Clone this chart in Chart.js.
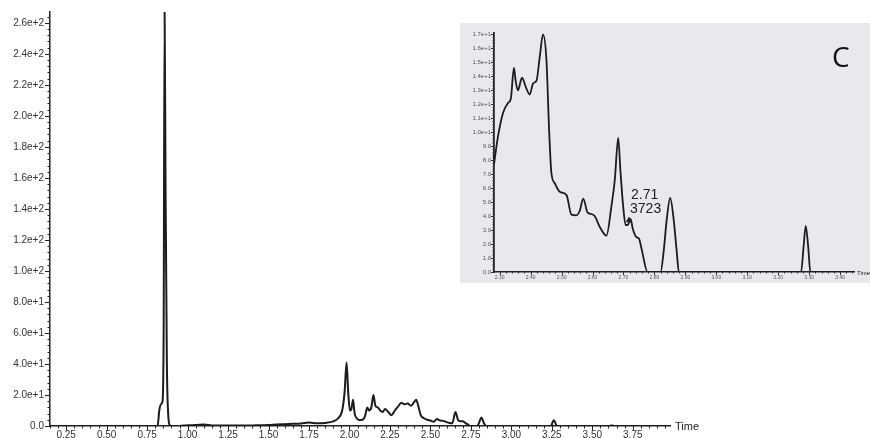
<!DOCTYPE html>
<html>
<head>
<meta charset="utf-8">
<script src="https://cdn.jsdelivr.net/npm/chart.js@4.4.0/dist/chart.umd.min.js"></script>
<style>
  html, body { margin: 0; padding: 0; background: #fff; }
  #wrap { position: relative; width: 870px; height: 438px; overflow: hidden; }
  #mainChart { position: absolute; left: 0; top: 0; }
  #insetChart { position: absolute; left: 460px; top: 23px; background: #e8e9ec; }
</style>
</head>
<body>
<div id="wrap">
  <canvas id="mainChart" width="870" height="438"></canvas>
  <canvas id="insetChart" width="410" height="260"></canvas>
</div>
<script>
// main chromatogram (time, intensity)
var mainTime = [0.15, 0.80, 0.815, 0.825, 0.835, 0.845, 0.852, 0.858, 0.864, 0.872, 0.880, 0.890, 0.90,
  0.95, 1.00, 1.05, 1.10, 1.15, 1.20, 1.30, 1.40, 1.50, 1.55, 1.60, 1.65, 1.70, 1.75, 1.80, 1.85, 1.90,
  1.93, 1.955, 1.97, 1.982, 1.992, 2.003, 2.012, 2.022, 2.032, 2.045, 2.06, 2.08, 2.095, 2.11, 2.12,
  2.135, 2.148, 2.16, 2.175, 2.19, 2.205, 2.22, 2.24, 2.26, 2.28, 2.30, 2.32, 2.34, 2.36, 2.38, 2.40,
  2.412, 2.425, 2.44, 2.46, 2.48, 2.50, 2.52, 2.54, 2.56, 2.58, 2.60, 2.62, 2.635, 2.655, 2.67, 2.685,
  2.70, 2.715, 2.73, 2.745, 2.79, 2.80, 2.815, 2.83, 2.845, 3.245, 3.255, 3.262, 3.27, 3.28, 3.60, 3.62,
  3.64, 3.98];
var mainIntensity = [0, 0, 0.3, 10, 14, 16, 60, 267, 150, 40, 8, 0.5, 0,
  0, 0.5, 0.6, 1.0, 0.4, 0.3, 0.3, 0.4, 0.6, 1.0, 1.2, 1.4, 1.6, 2.2, 1.8, 2.0, 3.0,
  5, 10, 22, 41, 22, 10, 11, 17, 8, 5, 3.8, 4, 6, 12, 10,
  12, 20, 13, 12, 10, 9, 11, 9, 7, 10, 12.5, 15, 14, 14.5, 13, 15.5,
  17, 13, 7, 5, 4, 3.5, 2.8, 4.5, 3.5, 3.3, 2.5, 2, 1.8, 9, 4, 3,
  3, 2, 1, 0, 0, 2, 5.5, 2, 0, 0, 2.5, 3.7, 2.5, 0, 0, 0.4,
  0, 0];

// inset, zoomed view 2.28 - 3.45
var insetTime = [2.2816, 2.2945, 2.311, 2.327, 2.336, 2.346, 2.352, 2.359, 2.372, 2.385, 2.397, 2.408,
  2.419, 2.430, 2.440, 2.451, 2.460, 2.467, 2.478, 2.494, 2.516, 2.532, 2.548, 2.559, 2.570, 2.584,
  2.597, 2.607, 2.624, 2.645, 2.661, 2.672, 2.683, 2.690, 2.699, 2.707, 2.715, 2.723, 2.730, 2.742,
  2.750, 2.759, 2.778, 2.820, 2.830, 2.840, 2.851, 2.862, 2.872, 2.879, 3.274, 3.282, 3.289, 3.297,
  3.304, 3.445];
var insetIntensity = [7.7, 9.7, 11.4, 12.1, 12.4, 14.6, 13.6, 13.0, 13.9, 13.2, 12.7, 13.5,
  13.7, 15.5, 17.0, 15.2, 10, 7.1, 6.35, 5.75, 5.5, 4.1, 4.05, 4.4, 5.25, 4.25,
  4.15, 4.0, 3.2, 2.6, 4.7, 6.6, 9.6, 7.3, 4.7, 3.35, 3.4, 3.8, 3.1, 2.5,
  2.4, 1.6, 0, 0, 1.5, 3.8, 5.3, 3.8, 1.5, 0, 0, 1.8, 3.3, 1.8,
  0, 0];

var annoTime = [2.718];
var annoValue = [3.7];
var annoText = ['2.71', '3723'];
var panelLetter = 'C';
var axisTitle = 'Time';

function toPoints(xs, ys) {
  return xs.map(function(x, i) { return { x: x, y: ys[i] }; });
}

// small and big tick marks along both axes
var tickMarks = {
  id: 'tickMarks',
  afterDraw: function(chart, args, opts) {
    var ctx = chart.ctx, area = chart.chartArea;
    ctx.save();
    ctx.strokeStyle = opts.color;
    ctx.lineWidth = 1;
    ctx.beginPath();
    ['x', 'y'].forEach(function(id) {
      var s = chart.scales[id], o = opts[id];
      var k = Math.ceil(s.min / o.minor - 1e-6);
      for (; k * o.minor <= s.max + 1e-9; k++) {
        var v = k * o.minor;
        var r = v / o.major;
        var len = Math.abs(r - Math.round(r)) < 1e-6 ? o.majorLen : o.minorLen;
        var p = Math.round(s.getPixelForValue(v)) + 0.5;
        if (id === 'x') {
          ctx.moveTo(p, area.bottom);
          ctx.lineTo(p, area.bottom + len);
        } else {
          ctx.moveTo(area.left, p);
          ctx.lineTo(area.left - len, p);
        }
      }
    });
    ctx.stroke();
    ctx.restore();
  }
};

var extraText = {
  id: 'extraText',
  afterDraw: function(chart, args, opts) {
    var ctx = chart.ctx, area = chart.chartArea;
    ctx.save();
    ctx.fillStyle = '#222';
    ctx.font = opts.titleFont;
    ctx.textBaseline = 'middle';
    ctx.textAlign = 'left';
    ctx.fillText(axisTitle, area.right + opts.titleGap, area.bottom + 1);
    if (opts.inset) {
      ctx.font = '28px "Open Sans"';
      ctx.textBaseline = 'alphabetic';
      ctx.fillStyle = '#111';
      ctx.fillText(panelLetter, area.right - 22, 44);
      var pt = chart.getDatasetMeta(1).data[0];
      ctx.font = '14px "Liberation Sans", Arial';
      ctx.fillStyle = '#222';
      ctx.fillText(annoText[0], pt.x + 2, pt.y - 21);
      ctx.fillText(annoText[1], pt.x + 1, pt.y - 7);
    }
    ctx.restore();
  }
};

new Chart(document.getElementById('mainChart'), {
  type: 'line',
  data: {
    datasets: [{
      data: toPoints(mainTime, mainIntensity),
      borderColor: '#1c1c1c',
      borderWidth: 2,
      pointRadius: 0,
      cubicInterpolationMode: 'monotone',
      fill: false
    }]
  },
  options: {
    responsive: false,
    animation: false,
    layout: { padding: { top: 12, right: 200, left: 0, bottom: 0 } },
    plugins: {
      legend: { display: false },
      tooltip: { enabled: false },
      tickMarks: {
        color: '#222',
        x: { minor: 0.05, major: 0.25, minorLen: 2.5, majorLen: 4.5 },
        y: { minor: 4, major: 20, minorLen: 2.5, majorLen: 5 }
      },
      extraText: { titleFont: '11px "Liberation Sans", Arial', titleGap: 5, inset: false }
    },
    scales: {
      x: {
        type: 'linear',
        min: 0.15,
        max: 3.98,
        afterFit: function(s) { s.height = 12; },
        grid: { display: false, drawTicks: false },
        border: { display: true, color: '#222', width: 1.5 },
        ticks: {
          stepSize: 0.25,
          includeBounds: false,
          autoSkip: false,
          maxRotation: 0,
          padding: 3,
          color: '#333',
          font: { family: '"Liberation Sans", Arial', size: 10 },
          callback: function(v) { return v.toFixed(2); }
        }
      },
      y: {
        type: 'linear',
        min: 0,
        max: 267,
        afterFit: function(s) { s.width = 50; },
        grid: { display: false, drawTicks: false },
        border: { display: true, color: '#222', width: 1.5 },
        ticks: {
          stepSize: 20,
          includeBounds: false,
          padding: 6,
          color: '#333',
          font: { family: '"Liberation Sans", Arial', size: 10 },
          callback: function(v) { return v === 0 ? '0.0' : v.toExponential(1); }
        }
      }
    }
  },
  plugins: [tickMarks, extraText]
});

new Chart(document.getElementById('insetChart'), {
  type: 'line',
  data: {
    datasets: [{
      data: toPoints(insetTime, insetIntensity),
      borderColor: '#1c1c1c',
      borderWidth: 1.8,
      pointRadius: 0,
      cubicInterpolationMode: 'monotone',
      fill: false
    }, {
      type: 'scatter',
      data: toPoints(annoTime, annoValue),
      pointStyle: 'triangle',
      pointRadius: 3,
      backgroundColor: '#222',
      borderColor: '#222',
      showLine: false
    }]
  },
  options: {
    responsive: false,
    animation: false,
    layout: { padding: { top: 10, right: 16, left: 0, bottom: 0 } },
    plugins: {
      legend: { display: false },
      tooltip: { enabled: false },
      tickMarks: {
        color: '#333',
        x: { minor: 0.02, major: 0.1, minorLen: 1.5, majorLen: 3 },
        y: { minor: 0.2, major: 1, minorLen: 1.5, majorLen: 3 }
      },
      extraText: { titleFont: '6px "Liberation Sans", Arial', titleGap: 3, inset: true }
    },
    scales: {
      x: {
        type: 'linear',
        min: 2.2816,
        max: 3.445,
        afterFit: function(s) { s.height = 11; },
        grid: { display: false, drawTicks: false },
        border: { display: true, color: '#222', width: 1.5 },
        ticks: {
          stepSize: 0.1,
          includeBounds: false,
          autoSkip: false,
          maxRotation: 0,
          padding: 3,
          color: '#555',
          font: { family: '"Liberation Sans", Arial', size: 5 },
          callback: function(v) { return v.toFixed(2); }
        }
      },
      y: {
        type: 'linear',
        min: 0,
        max: 17.1,
        afterFit: function(s) { s.width = 34; },
        grid: { display: false, drawTicks: false },
        border: { display: true, color: '#222', width: 1.8 },
        ticks: {
          stepSize: 1,
          includeBounds: false,
          autoSkip: false,
          padding: 3,
          color: '#555',
          font: { family: '"Liberation Sans", Arial', size: 6 },
          callback: function(v) { return v >= 10 ? v.toExponential(1) : v.toFixed(1); }
        }
      }
    }
  },
  plugins: [tickMarks, extraText]
});
</script>
</body>
</html>
